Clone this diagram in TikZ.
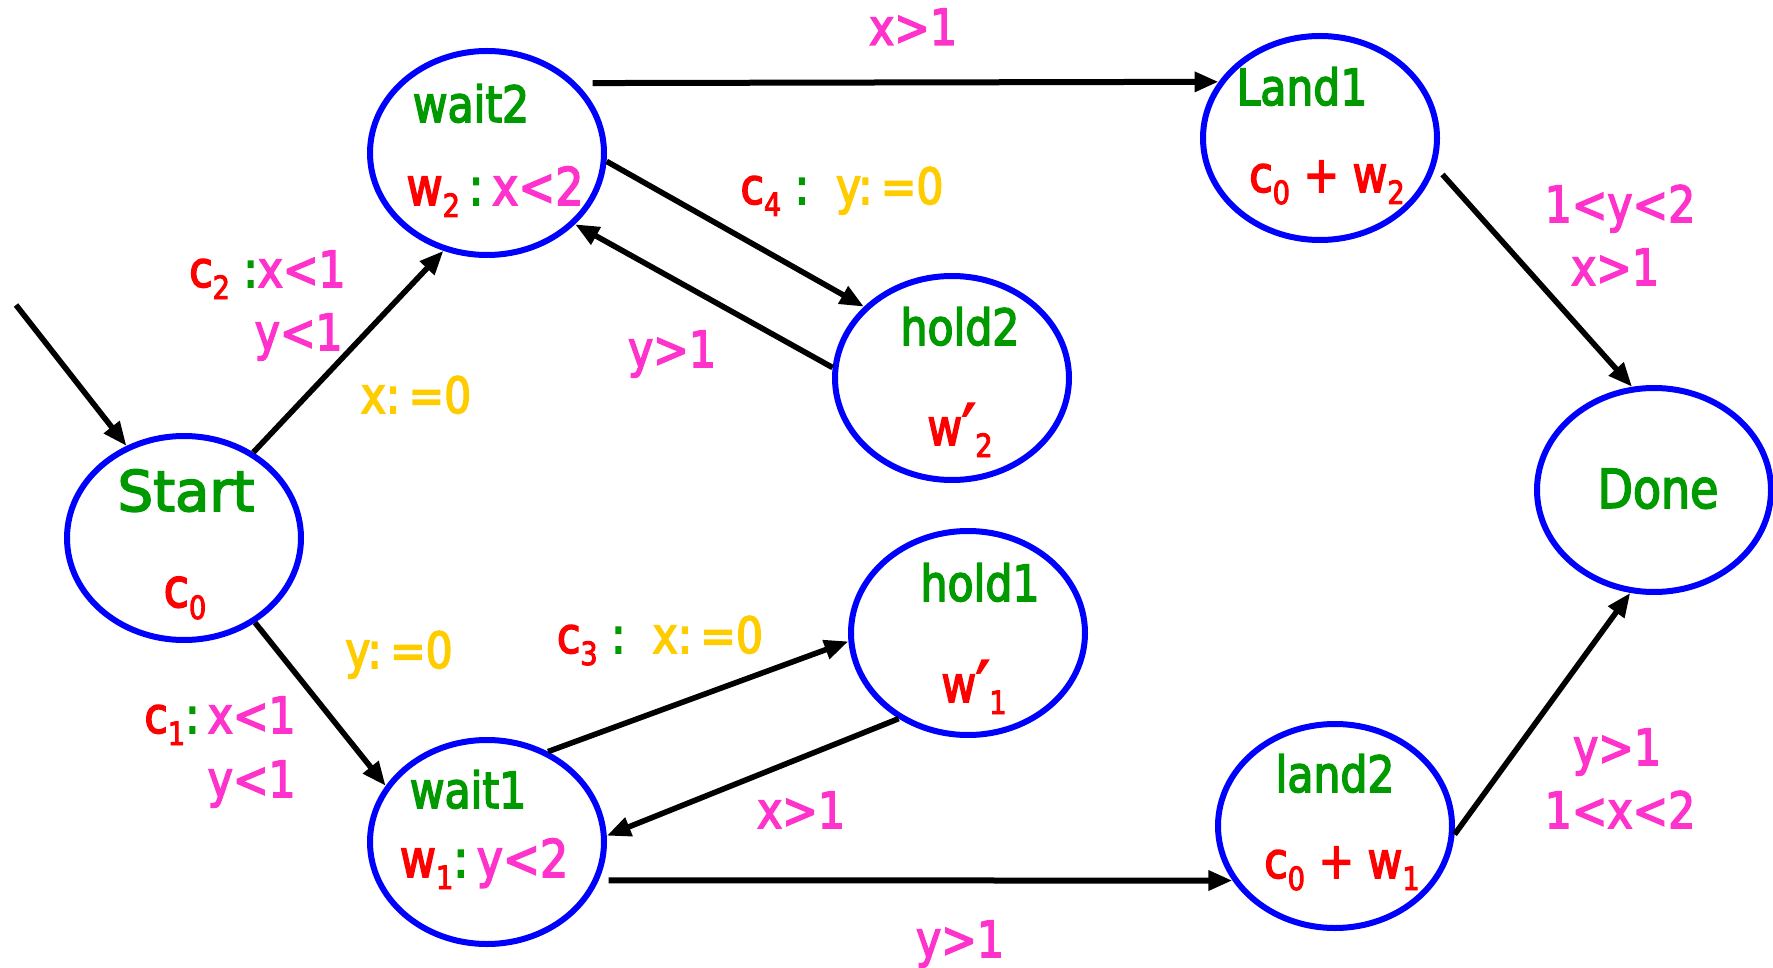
\documentclass[tikz,border=0pt]{standalone}
\usepackage{fontspec}
\setmainfont{DejaVu Sans}[FakeStretch=0.85, FakeBold=3]
\usetikzlibrary{shapes.geometric,arrows.meta,calc}
\definecolor{stgreen}{RGB}{0,153,0}
\definecolor{stred}{RGB}{255,0,0}
\definecolor{stmag}{RGB}{255,51,204}
\definecolor{styel}{RGB}{255,204,0}
\definecolor{stblue}{RGB}{0,0,255}
\newcommand\fsz[1]{\fontsize{#1}{#1}\selectfont}
\newcommand\lowidx[1]{\raisebox{-6pt}{\fontsize{16}{16}\selectfont #1}}
\newcommand\prm{\raisebox{-4pt}{\fontsize{34}{34}\selectfont ′}}
\newcommand\R[1]{\textcolor{stred}{#1}}
\newcommand\G[1]{\textcolor{stgreen}{#1}}
\newcommand\M[1]{\textcolor{stmag}{#1}}
\newcommand\Y[1]{\textcolor{styel}{#1}}
\tikzset{
  state/.style={ellipse, draw=stblue, line width=3pt, minimum width=117pt, minimum height=102pt, inner sep=0pt},
  sname/.style={anchor=base, inner sep=0pt, text=stgreen, font=\fsz{25}},
  sinv/.style={anchor=base, inner sep=0pt, text=stred, font=\fsz{25}},
  elab/.style={anchor=base, inner sep=0pt, text=stmag, font=\fsz{25}},
  arr/.style={-{Triangle[length=12pt,width=9.5pt]}, line width=2.8pt, black},
  harr/.style={-{Triangle[length=12pt,width=9.5pt]}, line width=3pt, black}
}
\begin{document}
\begin{tikzpicture}[x=0.5pt,y=-0.5pt]
\useasboundingbox (0,0) rectangle (1773,968);

% states
\node[state] (wait2) at (487,153) {};
\node[state] (land1) at (1320,138) {};
\node[state] (hold2) at (952,378) {};
\node[state] (start) at (184,538) {};
\node[state] (done) at (1654,490) {};
\node[state] (hold1) at (968,633) {};
\node[state] (wait1) at (487,842) {};
\node[state] (land2) at (1335,826) {};

% state texts
\node[sname] (wait2n) at (471,122) {wait2};
\node[sinv, font=\fsz{26}] (wait2i) at (495,205) {\R{w\lowidx{2}}\,\G{:}\,\M{x<2}};
\node[sname, font=\fsz{28}\addfontfeature{FakeStretch=1}] (startn) at (186,511) {Start};
\node[sinv, font=\fsz{27}] (starti) at (185,607) {c\lowidx{0}};
\node[sname] (land1n) at (1302,105) {Land1};
\node[sinv] (land1i) at (1327,192) {c\lowidx{0} + w\lowidx{2}};
\node[sname] (hold2n) at (960,345) {hold2};
\node[sinv] (hold2i) at (960,445) {w\prm\lowidx{2}};
\node[sname, font=\fsz{27}] (donen) at (1658,508) {Done};
\node[sname] (hold1n) at (980,601) {hold1};
\node[sinv] (hold1i) at (974,702) {w\prm\lowidx{1}};
\node[sname] (wait1n) at (468,808) {wait1};
\node[sinv, font=\fsz{26}] (wait1i) at (484,877) {\R{w\lowidx{1}}\G{:}\,\M{y<2}};
\node[sname] (land2n) at (1335,792) {land2};
\node[sinv] (land2i) at (1342,878) {c\lowidx{0} + w\lowidx{1}};

% connectors
\coordinate (init) at (16,305);
\draw[arr] (init) -- (start.122);
\draw[arr] (start.51) -- (wait2.246);
\draw[harr] ([xshift=8pt]wait2.38.9) -- (land1.151.1);
\draw[arr] (wait2.-4.3) -- (hold2.141.3);
\draw[arr] (hold2.175.7) -- (wait2.-39.4);
\draw[arr] ([xshift=5pt]land1.-18.3) -- (done.102.1);
\draw[arr] (start.-50.8) -- (wait1.151.5);
\draw[arr] (wait1.56.9) -- (hold1.184.3);
\draw[arr] (hold1.231) -- (wait1.3.7);
\draw[harr] ([xshift=5pt]wait1.-19.8) -- (land2.208.9);
\draw[arr] (land2.-4.3) -- (done.257.6);

% edge labels
\node[elab] (l1) at (913,45) {x>1};
\node[elab] (l2) at (842,204) {\R{c\lowidx{4}}\ \G{:}\ \ \Y{y:\,=0}};
\node[elab, anchor=base east] (l3a) at (346,287) {\R{c\lowidx{2}}\ \G{:}x<1};
\node[elab, anchor=base east] (l3b) at (343,350) {y<1};
\node[elab, text=styel] (l4) at (416,413) {x:\,=0};
\node[elab] (l5) at (672,367) {y>1};
\node[elab] (l6a) at (1620,222) {1<y<2};
\node[elab] (l6b) at (1615,285) {x>1};
\node[elab, text=styel] (l7) at (399,668) {y:\,=0};
\node[elab, anchor=base east] (l8a) at (296,733) {\R{c\lowidx{1}}\G{:}\,x<1};
\node[elab, anchor=base east] (l8b) at (296,797) {y<1};
\node[elab] (l9) at (660,653) {\R{c\lowidx{3}}\ \G{:}\ \ \Y{x:\,=0}};
\node[elab] (l10) at (801,828) {x>1};
\node[elab] (l11) at (960,957) {y>1};
\node[elab] (l12a) at (1617,765) {y>1};
\node[elab] (l12b) at (1620,828) {1<x<2};
\end{tikzpicture}
\end{document}
